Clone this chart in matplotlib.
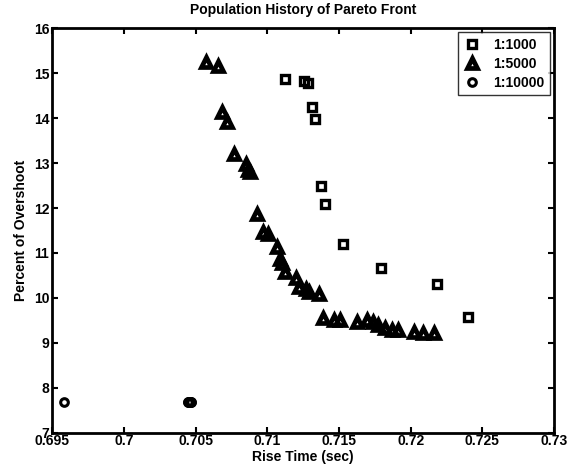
import matplotlib
matplotlib.use("Agg")
import matplotlib.pyplot as plt

plt.rcParams['font.family'] = ['Liberation Sans', 'DejaVu Sans']
plt.rcParams['font.weight'] = 'bold'

# 1:1000 run
rise_1000 = [0.71125, 0.71259, 0.71283, 0.7131, 0.71334, 0.71374, 0.71406,
             0.71531, 0.71796, 0.72183, 0.72403]
over_1000 = [14.88, 14.83, 14.77, 14.25, 13.97, 12.50, 12.10,
             11.21, 10.66, 10.31, 9.57]

# 1:5000 run
rise_5000 = [0.7057, 0.70655, 0.70683, 0.70718, 0.70771, 0.70853, 0.70869, 0.70881,
             0.70927, 0.70973, 0.71008, 0.71071, 0.7109, 0.71101, 0.71125, 0.71201,
             0.71224, 0.71271, 0.71294, 0.71364, 0.71392, 0.71462, 0.71508, 0.71629,
             0.71694, 0.7174, 0.71775, 0.71822, 0.71868, 0.71915, 0.7202, 0.72089, 0.7216]
over_5000 = [15.25, 15.16, 14.14, 13.92, 13.20, 12.99, 12.84, 12.81,
             11.87, 11.47, 11.42, 11.13, 10.86, 10.77, 10.58, 10.45,
             10.25, 10.21, 10.14, 10.08, 9.55, 9.51, 9.50, 9.47,
             9.51, 9.47, 9.40, 9.33, 9.29, 9.29, 9.25, 9.23, 9.21]

# 1:10000 run
rise_10000 = [0.69586, 0.70446, 0.7045, 0.70454, 0.70458, 0.70462, 0.70466, 0.7047]
over_10000 = [7.68, 7.68, 7.68, 7.68, 7.68, 7.68, 7.68, 7.68]

fig = plt.figure(figsize=(5.73, 4.69), dpi=100)
ax = fig.add_axes([0.091, 0.077, 0.876, 0.863])

ax.plot(rise_1000, over_1000, 's', ms=5.5, mfc='none', mec='black', mew=2.4, label='1:1000')
ax.plot(rise_5000, over_5000, '^', ms=7.5, mfc='none', mec='black', mew=3.4, label='1:5000')
ax.plot(rise_10000, over_10000, 'o', ms=5.5, mfc='none', mec='black', mew=2.2, label='1:10000')

ax.set_xlim(0.695, 0.73)
ax.set_ylim(7, 16)
ax.set_xticks([0.695, 0.7, 0.705, 0.71, 0.715, 0.72, 0.725, 0.73])
ax.set_xticklabels(['0.695', '0.7', '0.705', '0.71', '0.715', '0.72', '0.725', '0.73'])
ax.set_yticks(range(7, 17))
ax.tick_params(direction='in', length=4, width=1.5, top=True, right=True,
               labelsize=10, pad=1)
ax.tick_params(axis='y', pad=2)
for s in ax.spines.values():
    s.set_linewidth(2)

ax.set_title('Population History of Pareto Front', fontsize=10, fontweight='bold', pad=10)
ax.set_xlabel('Rise Time (sec)', fontsize=10, fontweight='bold', labelpad=1)
ax.set_ylabel('Percent of Overshoot', fontsize=10, fontweight='bold', labelpad=4)

leg = ax.legend(loc='upper right', fontsize=10, frameon=True, fancybox=False,
                edgecolor='black', borderaxespad=0.3, handletextpad=0.9,
                labelspacing=0.35, handlelength=1.2)
leg.get_frame().set_linewidth(1)

fig.savefig('out.png', dpi=100)
